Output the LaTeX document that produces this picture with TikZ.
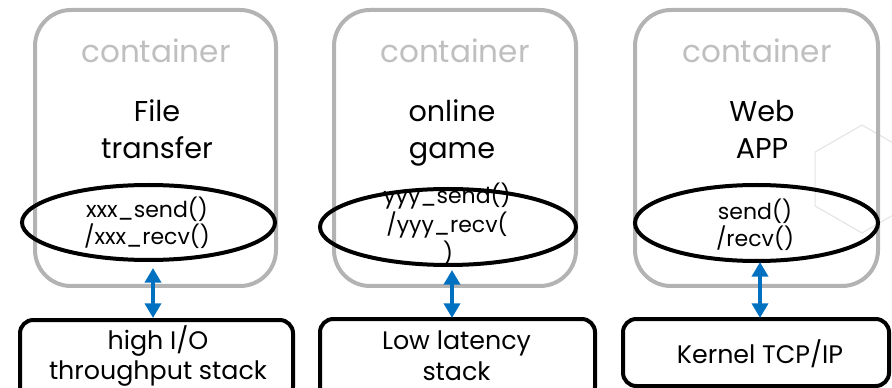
\documentclass[tikz,border=0pt]{standalone}
\usepackage{fontspec}
\setmainfont{Poppins}
\usetikzlibrary{arrows.meta,shapes.geometric}
\definecolor{contgray}{HTML}{B3B3B3}
\definecolor{labgray}{HTML}{BFBFBF}
\definecolor{hexgray}{HTML}{E3E3E3}
\definecolor{arrblue}{HTML}{0070C0}
\tikzset{
  contbox/.style={draw=contgray, line width=3pt, rounded corners=27pt, rectangle, inner sep=0pt},
  apiell/.style={draw=black, line width=3pt, ellipse, inner sep=0pt},
  stackbox/.style={draw=black, line width=3pt, rounded corners=10pt, rectangle, inner sep=0pt},
  conttext/.style={anchor=base, text=labgray, font=\fontsize{23.3}{27}\selectfont, inner sep=0pt},
  titletext/.style={anchor=base, font=\fontsize{21.5}{26}\selectfont, inner sep=0pt},
  apitext/.style={anchor=base, font=\fontsize{16.5}{20}\selectfont, inner sep=0pt},
  stacktext/.style={anchor=base, font=\fontsize{19}{22}\selectfont, inner sep=0pt},
  biarrow/.style={draw=arrblue, line width=3pt, {Triangle[length=11pt,width=12pt]}-{Triangle[length=11pt,width=12pt]}},
  hexline/.style={draw=hexgray, line width=0.8pt}
}
\begin{document}
\begin{tikzpicture}[x=0.75pt,y=-0.75pt]
\useasboundingbox (0,0) rectangle (892,388);
\clip (0,0) rectangle (892,388);
% faint hexagon
\draw[hexline] (862,125) -- (815.2,152) -- (815.2,206) -- (862,233) -- (908.8,206) -- (908.8,152) -- cycle;
% containers
\node[contbox, minimum width=180.75pt, minimum height=207pt] (k1) at (155.5,148) {};
\node[contbox, minimum width=181.5pt, minimum height=207pt] (k2) at (455,148) {};
\node[contbox, minimum width=182.25pt, minimum height=207pt] (k3) at (756.5,148) {};
% container labels
\node[conttext] (c1) at (156,63) {container};
\node[conttext] (c2) at (455,63) {container};
\node[conttext] (c3) at (757,63) {container};
% titles
\node[titletext] (f1) at (157,122) {File};
\node[titletext] (f2) at (157,159) {transfer};
\node[titletext] (g1) at (452,122) {online};
\node[titletext] (g2) at (452,159) {game};
\node[titletext] (w1) at (762,122) {Web};
\node[titletext] (w2) at (762,159) {APP};
% ellipses
\node[apiell, minimum width=189.75pt, minimum height=56.25pt] (e1) at (148.5,222.5) {};
\node[apiell, minimum width=192pt, minimum height=57pt] (e2) at (448,227) {};
\node[apiell, minimum width=182.25pt, minimum height=57pt] (e3) at (756.5,223) {};
% api texts
\node[apitext] (x1) at (147,218) {xxx\_send()};
\node[apitext] (x2) at (147,245) {/xxx\_recv()};
\node[apitext] (y1) at (447,204) {yyy\_send()};
\node[apitext] (y2) at (447,233) {/yyy\_recv(};
\node[apitext] (y3) at (448,262) {)};
\node[apitext] (s1) at (755,220) {send()};
\node[apitext] (s2) at (755,247) {/recv()};
% stack boxes
\node[stackbox, minimum width=204.75pt, minimum height=60pt] (b1) at (156.5,360) {};
\node[stackbox, minimum width=206.25pt, minimum height=60.75pt] (b2) at (457.5,359.5) {};
\node[stackbox, minimum width=199.5pt, minimum height=50.25pt] (b3) at (756,352.5) {};
\node[stacktext] (h1) at (158,349) {high I/O};
\node[stacktext] (h2) at (158,379) {throughput stack};
\node[stacktext] (l1) at (456.5,349) {Low latency};
\node[stacktext] (l2) at (456.5,380) {stack};
\node[stacktext] (kt) at (760,363) {Kernel TCP/IP};
% arrows
\coordinate (a1t) at (153,268);
\coordinate (a1b) at (153,318);
\coordinate (a2t) at (452,270);
\coordinate (a2b) at (452,318);
\coordinate (a3t) at (760,262);
\coordinate (a3b) at (760,318);
\draw[biarrow] (a1t) -- (a1b);
\draw[biarrow] (a2t) -- (a2b);
\draw[biarrow] (a3t) -- (a3b);
\end{tikzpicture}
\end{document}
